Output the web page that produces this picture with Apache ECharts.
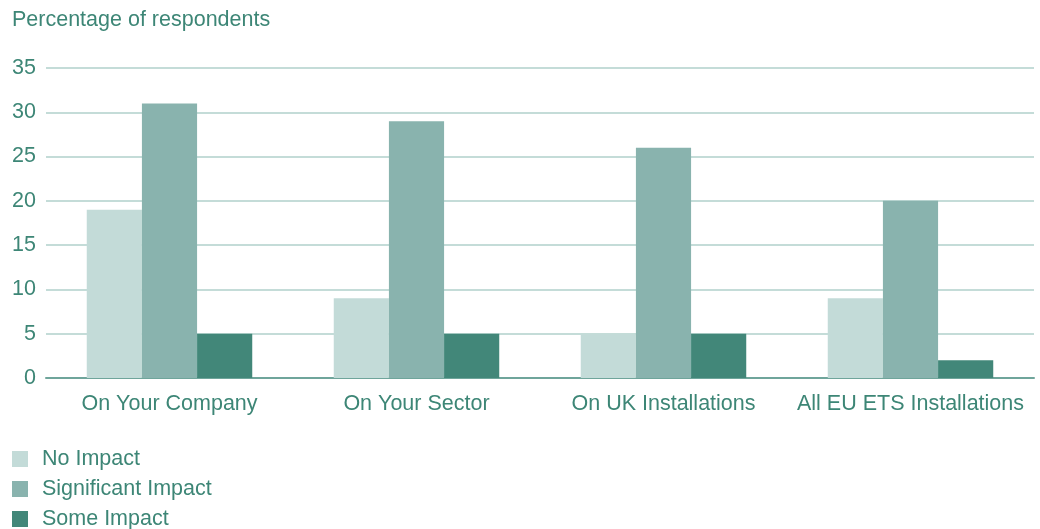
<!DOCTYPE html>
<html><head><meta charset="utf-8">
<script src="https://cdn.jsdelivr.net/npm/echarts@6/dist/echarts.min.js"></script>
<style>html,body{margin:0;padding:0;background:#fff}#c{width:1040px;height:529px}</style>
</head><body><div id="c"></div>
<script>
const categories = ['On Your Company', 'On Your Sector', 'On UK Installations', 'All EU ETS Installations'];
const noImpact = [19, 9, 5, 9];
const significantImpact = [31, 29, 26, 20];
const someImpact = [5, 5, 5, 2];
const seriesNames = ['No Impact', 'Significant Impact', 'Some Impact'];
const colors = ['#c3dbd8', '#89b3ae', '#428779'];
const txt = '#3d8676';
const font = 'Liberation Sans, Arial, sans-serif';
const legendTops = [448, 478, 508];
const chart = echarts.init(document.getElementById('c'));
chart.setOption({
  animation: false,
  color: colors,
  title: { text: 'Percentage of respondents', left: 12, top: 9, padding: 0, textStyle: { color: txt, fontSize: 21.5, fontWeight: 'normal', fontFamily: font } },
  legend: seriesNames.map((n, i) => ({ orient: 'vertical', left: 12, top: legendTops[i], padding: 0, itemWidth: 16, itemHeight: 16, icon: 'rect',
    textStyle: { color: txt, fontSize: 21.5, fontFamily: font, padding: [0, 0, 0, 9] }, data: [n] })),
  grid: { left: 46, right: 6, top: 68, bottom: 151, containLabel: false },
  xAxis: { type: 'category', data: categories,
    axisLine: { lineStyle: { color: '#6fa59b', width: 2 } }, axisTick: { show: false },
    axisLabel: { interval: 0, color: txt, fontSize: 21.5, fontFamily: font, margin: 15 } },
  yAxis: { type: 'value', min: 0, max: 35, interval: 5,
    axisLine: { show: false }, axisTick: { show: false },
    splitLine: { lineStyle: { color: '#b0d0cb', width: 1.5 } },
    axisLabel: { color: txt, fontSize: 21.5, fontFamily: font, margin: 10 } },
  series: [
    { name: seriesNames[0], type: 'bar', data: noImpact, barGap: '0%', barCategoryGap: '33%' },
    { name: seriesNames[1], type: 'bar', data: significantImpact, barGap: '0%', barCategoryGap: '33%' },
    { name: seriesNames[2], type: 'bar', data: someImpact, barGap: '0%', barCategoryGap: '33%' }
  ]
});
</script></body></html>
